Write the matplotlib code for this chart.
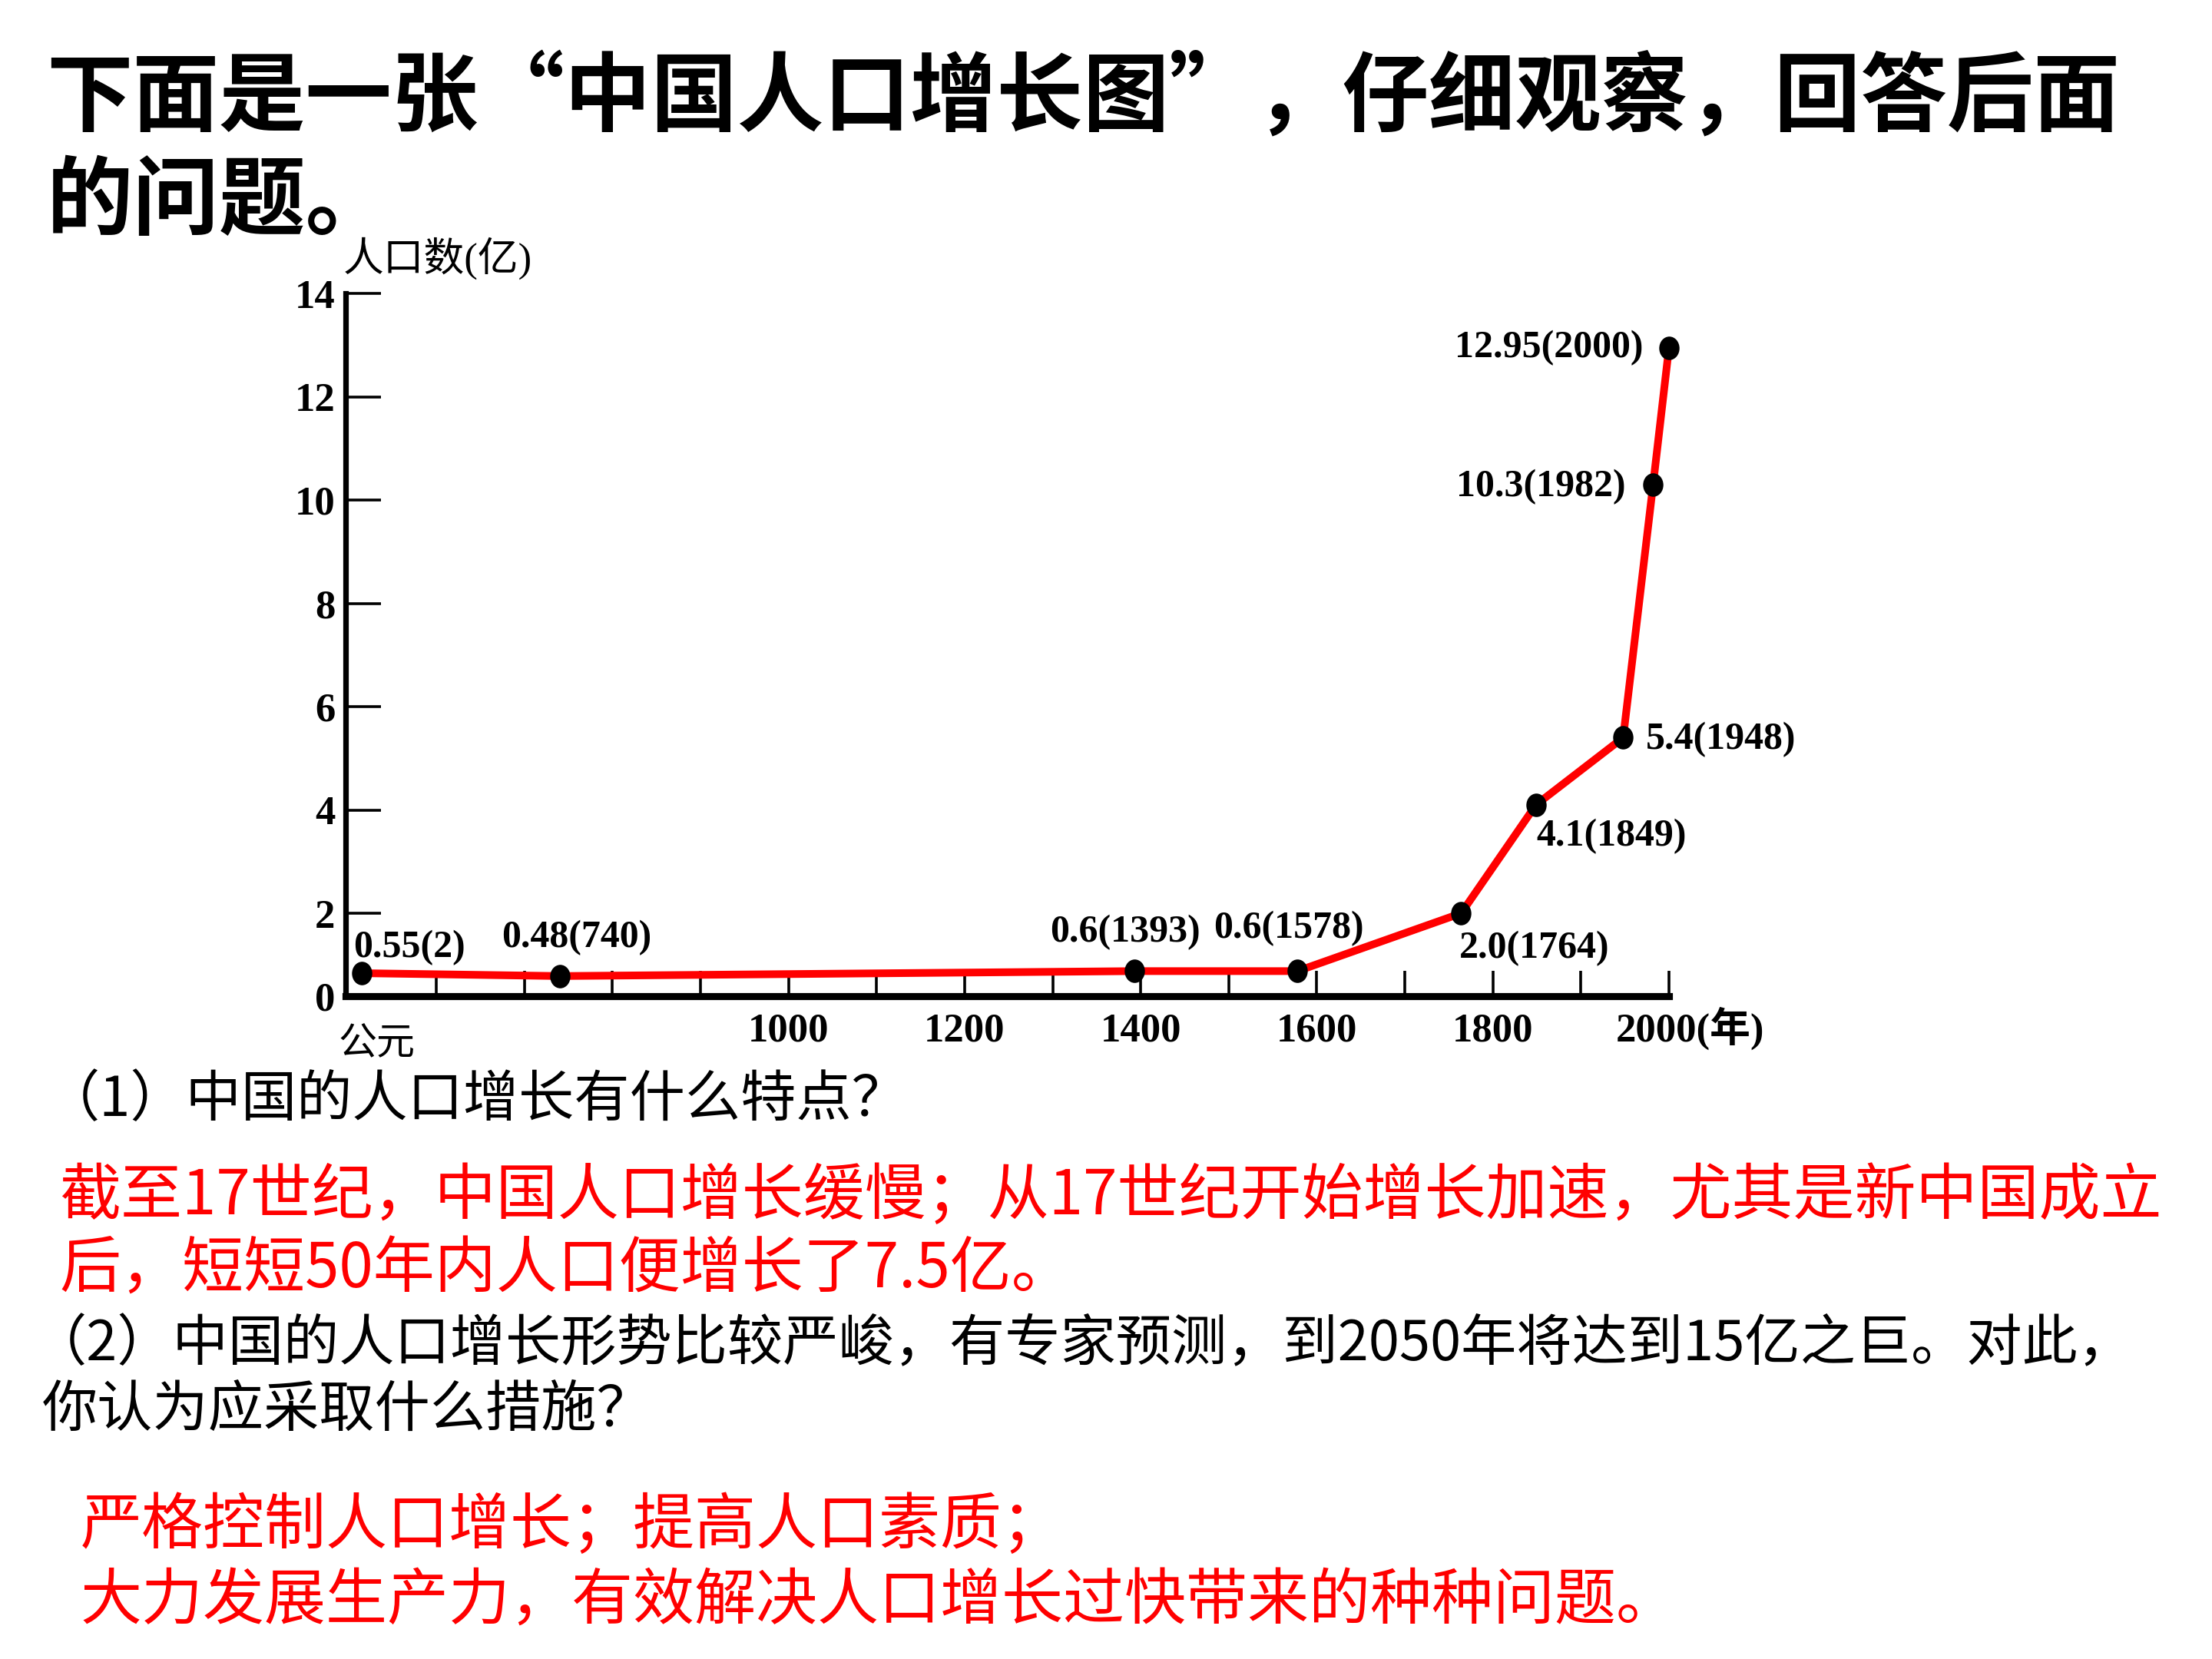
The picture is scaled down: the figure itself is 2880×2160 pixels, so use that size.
import numpy as np
import matplotlib
matplotlib.use('Agg')
import matplotlib.pyplot as plt
from matplotlib.path import Path
from matplotlib.transforms import Affine2D, ScaledTranslation

plt.rcParams['font.family'] = ['Noto Sans CJK SC', 'DejaVu Sans']

# datos del gráfico
years = [2, 740, 1393, 1578, 1764, 1849, 1948, 1982, 2000]
population = [0.55, 0.48, 0.6, 0.6, 2.0, 4.1, 5.4, 10.3, 12.95]
point_labels = ['0.55(2)', '0.48(740)', '0.6(1393)', '0.6(1578)', '2.0(1764)',
                '4.1(1849)', '5.4(1948)', '10.3(1982)', '12.95(2000)']

x_ticks = list(range(600, 2001, 100))
x_tick_labels = {1000: '1000', 1200: '1200', 1400: '1400', 1600: '1600',
                 1800: '1800', 2000: '2000(年)'}
y_ticks = [0, 2, 4, 6, 8, 10, 12, 14]

title_lines = ['下面是一张“中国人口增长图”，仔细观察，回答后面', '的问题。']
q1 = '（1）中国的人口增长有什么特点？'
a1 = ['截至17世纪，中国人口增长缓慢；从17世纪开始增长加速，尤其是新中国成立',
      '后，短短50年内人口便增长了7.5亿。']
q2 = ['（2）中国的人口增长形势比较严峻，有专家预测，到2050年将达到15亿之巨。对此，',
      '你认为应采取什么措施？']
a2 = ['严格控制人口增长；提高人口素质；',
      '大力发展生产力，有效解决人口增长过快带来的种种问题。']

# (dx, dy) en puntos y alineación de cada etiqueta
label_offsets = [(-4, 12, 'left'), (8, 18, 'center'), (-4.5, 18, 'center'),
                 (-4, 20, 'center'), (-1, -16.5, 'left'), (0, -15, 'left'),
                 (10.5, -1, 'left'), (-13, -1, 'right'), (-12, 0, 'right')]

SERIF = ['Liberation Serif', 'Noto Sans CJK SC']
RED = '#ff0000'


# el eje x del dibujo original está comprimido antes del año 600
def x_fwd(x):
    x = np.asarray(x, dtype=float)
    return np.where(x < 600, 515 + x * 85 / 600, x)


def x_inv(p):
    p = np.asarray(p, dtype=float)
    return np.where(p < 600, (p - 515) * 600 / 85, p)


# y el tramo 0-2 del eje y es más corto
def y_fwd(y):
    y = np.asarray(y, dtype=float)
    return np.where(y < 2, 2 - (2 - y) * 0.8, y)


def y_inv(p):
    p = np.asarray(p, dtype=float)
    return np.where(p < 2, 2 - (2 - p) / 0.8, p)


fig = plt.figure(figsize=(14.4, 10.8), dpi=200)
fig.patch.set_facecolor('white')

ax = fig.add_axes([0.1563, 0.3997, 0.5982, 0.4234])
ax.set_xscale('function', functions=(x_fwd, x_inv))
ax.set_yscale('function', functions=(y_fwd, y_inv))
ax.set_xlim(-127, 2000)
ax.set_ylim(0, 14)

ellipse = Path.unit_circle().transformed(Affine2D().scale(0.85, 1.0))
ax.plot(years, population, color=RED, lw=3.6, zorder=2, clip_on=False)
ax.plot(years, population, ls='none', marker=ellipse, ms=10, color='black',
        zorder=3, clip_on=False)

for x, y, txt, (dx, dy, ha) in zip(years, population, point_labels, label_offsets):
    ax.annotate(txt, (x, y), xytext=(dx, dy), textcoords='offset points',
                ha=ha, va='center', fontsize=18, fontweight='bold',
                family=SERIF, annotation_clip=False)

for side in ['top', 'right']:
    ax.spines[side].set_visible(False)
ax.spines['left'].set_linewidth(2.6)
ax.spines['bottom'].set_linewidth(3.3)

ax.set_yticks(y_ticks)
ax.set_yticklabels([str(v) for v in y_ticks])
ax.tick_params(axis='y', direction='in', length=16.5, width=1.3, pad=5)
ax.set_xticks(x_ticks)
ax.set_xticklabels([x_tick_labels.get(t, '') for t in x_ticks])
ax.tick_params(axis='x', direction='in', length=12, width=1.3, pad=8)
ax.xaxis.set_minor_locator(matplotlib.ticker.NullLocator())
ax.yaxis.set_minor_locator(matplotlib.ticker.NullLocator())

for lab in ax.get_xticklabels() + ax.get_yticklabels():
    lab.set_family(SERIF)
    lab.set_fontweight('bold')
    lab.set_fontsize(19)

last = ax.get_xticklabels()[-1]
last.set_horizontalalignment('left')
last.set_transform(last.get_transform() + ScaledTranslation(-25 / 72, 3 / 72, fig.dpi_scale_trans))

fig.text(0.155, 0.8444, '人口数(亿)', fontsize=19, family=SERIF, va='center')
fig.text(0.153, 0.3707, '公元', fontsize=18, va='center')

# textos de la diapositiva
fig.text(0.021, 0.9405, title_lines[0], fontsize=40.5, fontweight='bold', va='center')
fig.text(0.021, 0.878, title_lines[1], fontsize=40.5, fontweight='bold', va='center')

fig.text(0.020, 0.3367, q1, fontsize=26, va='center')
fig.text(0.0268, 0.279, a1[0], fontsize=28.8, color=RED, va='center')
fig.text(0.0268, 0.2347, a1[1], fontsize=28.8, color=RED, va='center')
fig.text(0.014, 0.1896, q2[0], fontsize=26, va='center')
fig.text(0.019, 0.1497, q2[1], fontsize=26, va='center')
fig.text(0.0364, 0.080, a2[0], fontsize=28.8, color=RED, va='center')
fig.text(0.0364, 0.0349, a2[1], fontsize=28.8, color=RED, va='center')

fig.savefig('out.png', dpi=200, facecolor='white')
